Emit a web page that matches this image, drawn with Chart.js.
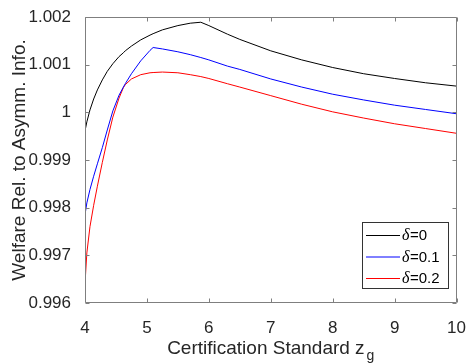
<!DOCTYPE html>
<html><head><meta charset="utf-8">
<script src="https://cdn.jsdelivr.net/npm/chart.js@4/dist/chart.umd.min.js"></script>
<style>html,body{margin:0;padding:0;background:#fff;}#wrap{width:473px;height:364px;}</style>
</head><body><div id="wrap"><canvas id="c" width="473" height="364"></canvas></div>
<script>
const zValues        = [4.00, 4.03, 4.08, 4.14, 4.20, 4.28, 4.36, 4.45, 4.55, 4.62, 4.65, 4.75, 4.90, 5.05, 5.10, 5.25, 5.50, 5.70, 5.87, 6.00, 6.30, 6.50, 7.00, 7.50, 8.00, 8.50, 9.00, 9.50, 10.00];
const welfareDelta0  = [0.99961, 0.99980, 1.00005, 1.00028, 1.00047, 1.00068, 1.00086, 1.00102, 1.00117, 1.00125, 1.00129, 1.00139, 1.00152, 1.00162, 1.00165, 1.00173, 1.00182, 1.00187, 1.00189, 1.00182, 1.00164, 1.00153, 1.00129, 1.00110, 1.00094, 1.00081, 1.00071, 1.00062, 1.00055];
const welfareDelta01 = [0.99785, 0.99810, 0.99838, 0.99866, 0.99892, 0.99926, 0.99963, 1.00003, 1.00036, 1.00053, 1.00060, 1.00081, 1.00108, 1.00130, 1.00136, 1.00133, 1.00127, 1.00121, 1.00115, 1.00110, 1.00097, 1.00090, 1.00070, 1.00053, 1.00038, 1.00026, 1.00015, 1.00006, 0.99997];
const welfareDelta02 = [0.99641, 0.99705, 0.99760, 0.99805, 0.99845, 0.99895, 0.99942, 0.99990, 1.00030, 1.00052, 1.00058, 1.00070, 1.00079, 1.00083, 1.000835, 1.000845, 1.00083, 1.00079, 1.00075, 1.00071, 1.00060, 1.00053, 1.00035, 1.00017, 1.00001, 0.99988, 0.99976, 0.99966, 0.99956];
const deltaLabels = ['0', '0.1', '0.2'];
const seriesColors = ['#000000', '#0000ff', '#ff0000'];
const xTickValues = [4, 5, 6, 7, 8, 9, 10];
const yTickValues = [0.996, 0.997, 0.998, 0.999, 1, 1.001, 1.002];
const yTickLabels = ['0.996', '0.997', '0.998', '0.999', '1', '1.001', '1.002'];
const xTitleMain = 'Certification Standard z';
const xTitleSub = 'g';
const yTitle = 'Welfare Rel. to Asymm. Info.';

const SANS = '"Liberation Sans", Arial, Helvetica, sans-serif';
const seriesValues = [welfareDelta0, welfareDelta01, welfareDelta02];

const datasets = seriesValues.map((arr, k) => ({
  label: deltaLabels[k],
  data: zValues.map((z, i) => ({x: z, y: arr[i]})),
  borderColor: seriesColors[k],
  backgroundColor: seriesColors[k],
  borderWidth: 1,
  pointRadius: 0,
  tension: 0,
  fill: false
}));

const decorPlugin = {
  id: 'decor',
  afterDatasetsDraw(chart) {
    const ctx = chart.ctx;
    const a = chart.chartArea;
    const xs = chart.scales.x, ys = chart.scales.y;
    ctx.save();
    ctx.strokeStyle = '#7f7f7f';
    ctx.lineWidth = 1;
    const L = Math.round(a.left) + 0.5, R = Math.round(a.right) - 0.5;
    const T = Math.round(a.top) + 0.5, B = Math.round(a.bottom) - 0.5;
    ctx.beginPath();
    ctx.rect(L, T, R - L, B - T);
    ctx.stroke();
    const tl = 4;
    ctx.beginPath();
    xTickValues.forEach(v => {
      const px = Math.round(xs.getPixelForValue(v)) + 0.5;
      ctx.moveTo(px, B); ctx.lineTo(px, B - tl);
      ctx.moveTo(px, T); ctx.lineTo(px, T + tl);
    });
    yTickValues.forEach(v => {
      const py = Math.round(ys.getPixelForValue(v)) + 0.5;
      ctx.moveTo(L, py); ctx.lineTo(L + tl, py);
      ctx.moveTo(R, py); ctx.lineTo(R - tl, py);
    });
    ctx.stroke();

    // axis titles
    ctx.fillStyle = '#262626';
    ctx.font = '19px ' + SANS;
    ctx.textBaseline = 'alphabetic';
    ctx.textAlign = 'left';
    const mainW = ctx.measureText(xTitleMain).width;
    ctx.font = '14px ' + SANS;
    const subW = ctx.measureText(xTitleSub).width;
    const cx = (a.left + a.right) / 2;
    const startX = cx - (mainW + 2 + subW) / 2;
    ctx.font = '19px ' + SANS;
    ctx.fillText(xTitleMain, startX, 354);
    ctx.font = '14px ' + SANS;
    ctx.fillText(xTitleSub, startX + mainW + 2, 360);

    ctx.save();
    ctx.translate(20, (a.top + a.bottom) / 2);
    ctx.rotate(-Math.PI / 2);
    ctx.font = '19px ' + SANS;
    ctx.textAlign = 'center';
    ctx.textBaseline = 'middle';
    ctx.fillText(yTitle, 0, 0);
    ctx.restore();

    // legend
    const bx = 362.5, by = 222.5, bw = 86, bh = 66;
    ctx.fillStyle = '#ffffff';
    ctx.fillRect(bx, by, bw, bh);
    ctx.strokeStyle = '#333333';
    ctx.strokeRect(bx, by, bw, bh);
    const rows = [235, 256.5, 278];
    chart.data.datasets.forEach((ds, k) => {
      const y = rows[k];
      ctx.strokeStyle = ds.borderColor;
      ctx.beginPath();
      ctx.moveTo(366, y + 0.5); ctx.lineTo(400, y + 0.5);
      ctx.stroke();
      ctx.fillStyle = '#000000';
      ctx.textAlign = 'left';
      ctx.textBaseline = 'middle';
      ctx.font = 'italic 16px "Liberation Serif", "DejaVu Serif", serif';
      ctx.fillText('\u03b4', 402, y + 1);
      const dw = ctx.measureText('\u03b4').width;
      ctx.font = '15px ' + SANS;
      ctx.fillText('=' + ds.label, 402 + dw + 0.5, y + 1);
    });
    ctx.restore();
  }
};

new Chart(document.getElementById('c'), {
  type: 'line',
  data: { datasets },
  options: {
    responsive: false,
    devicePixelRatio: 1,
    animation: false,
    layout: { padding: { left: 0, right: 13, top: 17, bottom: 0 } },
    plugins: { legend: { display: false }, tooltip: { enabled: false } },
    scales: {
      x: {
        type: 'linear', min: 4, max: 10,
        afterBuildTicks: s => { s.ticks = xTickValues.map(v => ({ value: v })); },
        afterFit: s => { s.height = 61; },
        grid: { display: false },
        border: { display: false },
        ticks: { font: { size: 17, family: SANS }, color: '#262626', padding: 7, maxRotation: 0, autoSkip: false,
                 callback: v => String(v) }
      },
      y: {
        type: 'linear', min: 0.996, max: 1.002,
        afterBuildTicks: s => { s.ticks = yTickValues.map(v => ({ value: v })); },
        afterFit: s => { s.width = 85; },
        grid: { display: false },
        border: { display: false },
        ticks: { font: { size: 17, family: SANS }, color: '#262626', padding: 6, autoSkip: false,
                 callback: v => { const k = yTickValues.findIndex(t => Math.abs(t - v) < 1e-9); return k >= 0 ? yTickLabels[k] : ''; } }
      }
    }
  },
  plugins: [decorPlugin]
});
</script>
</body></html>
